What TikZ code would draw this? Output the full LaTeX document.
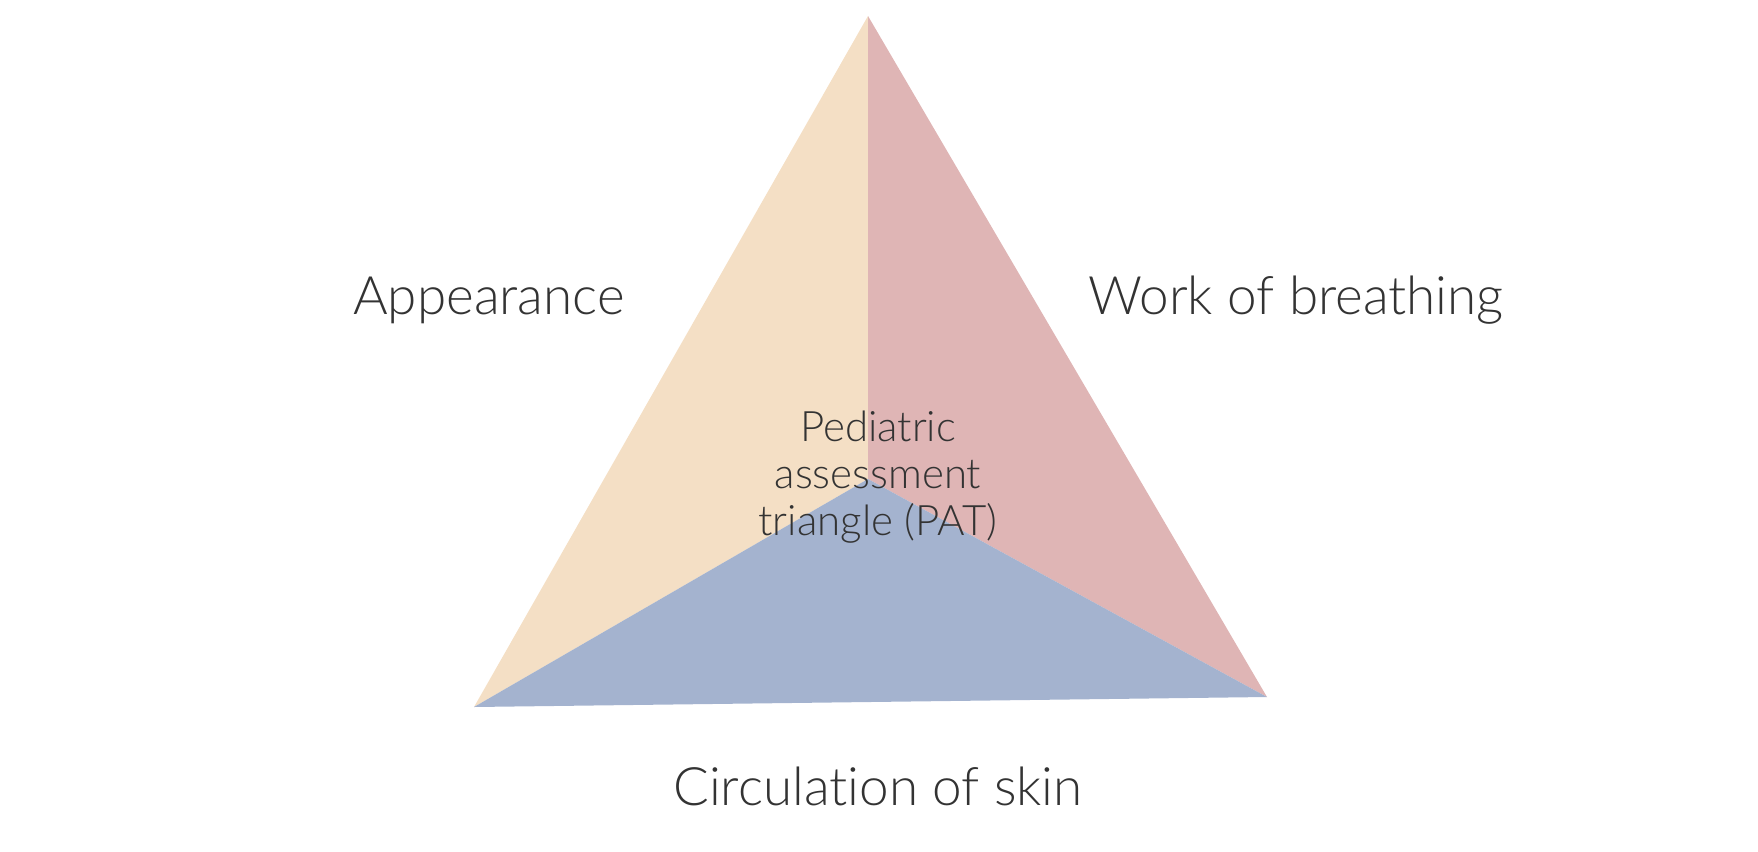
\documentclass[tikz,border=0pt]{standalone}
\usepackage{fontspec}
\setmainfont{Lato}[UprightFont={* Light}, Ligatures={NoCommon, NoRequired}]
\definecolor{apbeige}{HTML}{F4DFC5}
\definecolor{wbpink}{HTML}{DFB5B5}
\definecolor{csblue}{HTML}{A4B3CF}
\definecolor{labelgray}{HTML}{333333}
\tikzset{
  side/.style={text=labelgray, inner sep=0pt, anchor=base,
    font=\fontsize{26.5}{30}\selectfont},
  centre/.style={text=labelgray, inner sep=0pt, align=center,
    font=\fontsize{21}{23.4}\selectfont}
}
\begin{document}
\begin{tikzpicture}[x=0.5pt, y=-0.5pt]
  \useasboundingbox (0,0) rectangle (1758,852);
  \coordinate (top) at (868,16);
  \coordinate (left) at (474,707);
  \coordinate (right) at (1267,697);
  \coordinate (mid) at (868,479);
  \fill[apbeige] (top) -- (mid) -- (left) -- cycle;
  \fill[wbpink] (top) -- (right) -- (mid) -- cycle;
  \fill[csblue] (left) -- (mid) -- (right) -- cycle;
  \node[side] (appearance) at (489,314) {Appearance};
  \node[side] (breathing) at (1296,314) {Work of breathing};
  \node[side] (circulation) at (878,805) {Circulation of skin};
  \node[centre] (pat) at (878,477) {Pediatric\\assessment\\triangle (PAT)};
\end{tikzpicture}
\end{document}
